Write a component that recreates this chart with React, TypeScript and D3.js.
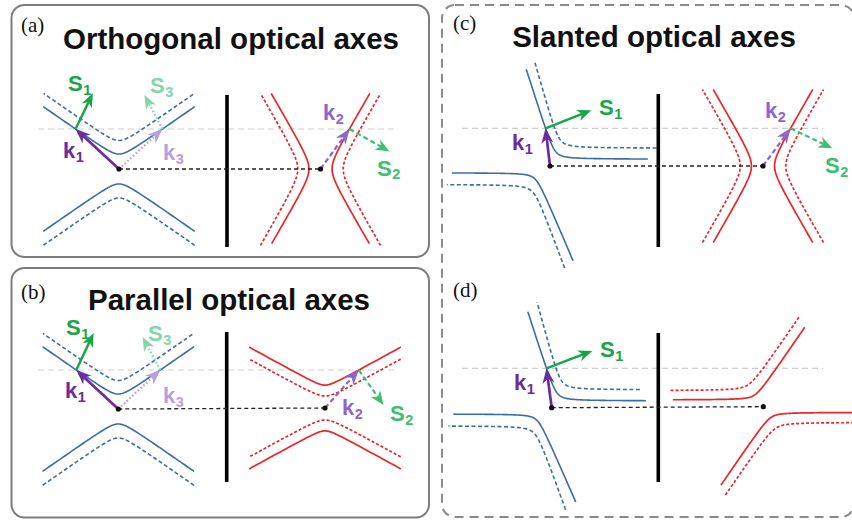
import React from "react";
import * as d3 from "d3";

type Pt = [number, number];
// One branch of an index surface: corner of its two asymptotes, the far ends of
// both arms and the rounding of the corner (all relative to the panel origin).
type Branch = { c: Pt; e1: Pt; e2: Pt; r: number; dash: boolean };

const W = 852;
const H = 520;

const BLUE = "#3d6da6";
const RED = "#e8262b";
const K1 = "#6a2c9e";
const K2 = "#9063cf";
const K3 = "#b89fe0";
const S1 = "#17a548";
const S2 = "#3dbf72";
const S3 = "#84d6ab";

// ---- surfaces -------------------------------------------------------------
const blueVert: Branch[] = [
  { c: [0, -9], e1: [-76, -62.2], e2: [76, -62.2], r: 5.2, dash: false },
  { c: [0, -22.5], e1: [-75.7, -75.5], e2: [74.3, -74.5], r: 5.2, dash: true },
  { c: [0, 9], e1: [-76, 62.2], e2: [76, 62.2], r: 5.2, dash: false },
  { c: [0, 23], e1: [-76, 76.2], e2: [76, 76.2], r: 5.2, dash: true },
];

const redSideA: Branch[] = [
  { c: [-4.5, 0], e1: [-49, -76], e2: [-48.5, 75], r: 7, dash: false },
  { c: [4.5, 0], e1: [49, -76], e2: [48.5, 75], r: 7, dash: false },
  { c: [-15.2, 0], e1: [-59.7, -76], e2: [-59.7, 77], r: 7.5, dash: true },
  { c: [15.2, 0], e1: [59.7, -76], e2: [59.7, 77], r: 7.5, dash: true },
];

const redVertB: Branch[] = [
  { c: [0, -19], e1: [-76, -60.8], e2: [76, -60.8], r: 4, dash: false },
  { c: [0, -6.9], e1: [-76, -48.7], e2: [76, -48.7], r: 5.3, dash: true },
  { c: [0, 6.9], e1: [-76, 48.7], e2: [76, 48.7], r: 5.3, dash: true },
  { c: [0, 19], e1: [-76, 60.8], e2: [76, 60.8], r: 4, dash: false },
];

const blueSlantC: Branch[] = [
  { c: [4.4, -6.7], e1: [-24, -96.7], e2: [98, -6.7], r: 5.5, dash: false },
  { c: [8.6, -17.7], e1: [-15.7, -104.3], e2: [106.7, -17.7], r: 6, dash: true },
  { c: [-14, 6.7], e1: [-98.3, 6.7], e2: [23.3, 94.7], r: 5, dash: false },
  { c: [-15.8, 18.3], e1: [-103.3, 18.3], e2: [15, 102], r: 6, dash: true },
];

const redSideC: Branch[] = [
  { c: [-4.5, 0], e1: [-49.5, -77], e2: [-49.5, 77], r: 7, dash: false },
  { c: [4.5, 0], e1: [49.5, -77], e2: [49.5, 77], r: 7, dash: false },
  { c: [-15.2, 0], e1: [-60.2, -77], e2: [-60.2, 77], r: 7.5, dash: true },
  { c: [15.2, 0], e1: [60.2, -77], e2: [60.2, 77], r: 7.5, dash: true },
];

const blueSlantD: Branch[] = [
  { c: [4.4, -6.7], e1: [-24.2, -96], e2: [94.3, -6.7], r: 5.5, dash: false },
  { c: [8.6, -17.7], e1: [-15, -105.4], e2: [88.3, -17.7], r: 6, dash: true },
  { c: [-14, 6.2], e1: [-98.4, 6.2], e2: [24.3, 94.3], r: 5, dash: false },
  { c: [-15.8, 18], e1: [-103.4, 18], e2: [14.3, 102], r: 6, dash: true },
];

const redSlantD: Branch[] = [
  { c: [-8.1, -6.7], e1: [-90.6, -6.7], e2: [41.7, -79.4], r: 5, dash: false },
  { c: [-14.3, -16], e1: [-95, -16], e2: [36, -89.4], r: 6, dash: true },
  { c: [7.2, 5.6], e1: [90, 5.6], e2: [-42.6, 78.3], r: 5, dash: false },
  { c: [11.5, 15.6], e1: [90, 15.6], e2: [-38.3, 88.3], r: 6, dash: true },
];

// ---- wave vectors and Poynting vectors ------------------------------------
type Ray = {
  set: "blue" | "red";
  branch: number;
  side: 1 | -1;
  k: [string, string, string, string, Pt];
  s?: [string, string, string, string, Pt, Pt];
};
// k: [letter, index, colour, style, label]; s: [...same, vector, label]
const raysA: Ray[] = [
  { set: "blue", branch: 0, side: -1, k: ["k", "1", K1, "solid", [63, 158]], s: ["S", "1", S1, "solid", [17.3, -35.7], [68, 91]] },
  { set: "blue", branch: 0, side: 1, k: ["k", "3", K3, "dot", [163, 160]], s: ["S", "3", S3, "dot", [-18, -34], [150, 93]] },
  { set: "red", branch: 1, side: 1, k: ["k", "2", K2, "dash", [323, 120]], s: ["S", "2", S2, "dash", [40, 22.4], [377, 175.5]] },
];
const raysB: Ray[] = [
  { set: "blue", branch: 0, side: -1, k: ["k", "1", K1, "solid", [65, 398]], s: ["S", "1", S1, "solid", [17.3, -37], [66, 335]] },
  { set: "blue", branch: 0, side: 1, k: ["k", "3", K3, "dot", [163, 403]], s: ["S", "3", S3, "dot", [-17.7, -33], [148, 341]] },
  { set: "red", branch: 0, side: 1, k: ["k", "2", K2, "dash", [342, 415]], s: ["S", "2", S2, "dash", [24.7, 35], [390, 421]] },
];
const raysC: Ray[] = [
  { set: "blue", branch: 0, side: -1, k: ["k", "1", K1, "solid", [512, 150]], s: ["S", "1", S1, "solid", [45.7, -18], [599, 115]] },
  { set: "red", branch: 1, side: 1, k: ["k", "2", K2, "dash", [765, 118]], s: ["S", "2", S2, "dash", [41.7, 20], [825, 173]] },
];
const raysD: Ray[] = [
  { set: "blue", branch: 0, side: -1, k: ["k", "1", K1, "solid", [514, 390]], s: ["S", "1", S1, "solid", [45.7, -17.3], [600, 357]] },
];

type Panel = {
  tag?: [string, Pt];
  title?: [string, Pt];
  blueO: Pt;
  redO: Pt;
  blue: Branch[];
  red: Branch[];
  grayY: number;
  grayX: Pt;
  wall: [number, number, number];
  rays: Ray[];
};

const panels: Panel[] = [
  { tag: ["(a)", [21, 32]], title: ["Orthogonal optical axes", [231, 49]], blueO: [119, 169], redO: [320.5, 169], blue: blueVert, red: redSideA, grayY: 129, grayX: [38, 395], wall: [227, 95, 247], rays: raysA },
  { tag: ["(b)", [21, 299]], title: ["Parallel optical axes", [229, 310]], blueO: [118.3, 409], redO: [325, 408], blue: blueVert, red: redVertB, grayY: 370, grayX: [38, 395], wall: [226.7, 332, 482], rays: raysB },
  { tag: ["(c)", [453, 30]], title: ["Slanted optical axes", [654, 47]], blueO: [550, 166], redO: [763, 166], blue: blueSlantC, red: redSideC, grayY: 128.3, grayX: [462, 823], wall: [658.3, 94, 247], rays: raysC },
  { tag: ["(d)", [453, 297]], blueO: [551.7, 407.7], redO: [763.3, 406.7], blue: blueSlantD, red: redSlantD, grayY: 368.3, grayX: [462, 823], wall: [658.3, 333, 482], rays: raysD },
];

// ---- geometry helpers -----------------------------------------------------
function sampleBranch(b: Branch, o: Pt): Pt[] {
  const x = d3.scaleLinear().domain([0, 1]).range([o[0], o[0] + 1]);
  const y = d3.scaleLinear().domain([0, 1]).range([o[1], o[1] + 1]);
  const v1: Pt = [b.e1[0] - b.c[0], b.e1[1] - b.c[1]];
  const v2: Pt = [b.e2[0] - b.c[0], b.e2[1] - b.c[1]];
  const L1 = Math.hypot(v1[0], v1[1]);
  const L2 = Math.hypot(v2[0], v2[1]);
  const u1: Pt = [v1[0] / L1, v1[1] / L1];
  const u2: Pt = [v2[0] / L2, v2[1] / L2];
  const t0 = -Math.log(L2 / b.r);
  const t1 = Math.log(L1 / b.r);
  return d3.range(0, 121).map((i) => {
    const t = t0 + ((t1 - t0) * i) / 120;
    const a = b.r * Math.exp(t);
    const c = b.r * Math.exp(-t);
    return [x(b.c[0] + a * u1[0] + c * u2[0]), y(b.c[1] + a * u1[1] + c * u2[1])] as Pt;
  });
}

function crossing(pts: Pt[], gy: number, ox: number, side: number): Pt {
  let best: Pt = pts[0];
  for (let i = 0; i < pts.length - 1; i++) {
    const [x1, y1] = pts[i];
    const [x2, y2] = pts[i + 1];
    if ((y1 - gy) * (y2 - gy) <= 0 && y1 !== y2) {
      const f = (gy - y1) / (y2 - y1);
      const xx = x1 + f * (x2 - x1);
      if ((xx - ox) * side > 0) best = [xx, gy];
    }
  }
  return best;
}

const lineGen = d3.line<Pt>().x((d) => d[0]).y((d) => d[1]);

const dashFor = (style: string) =>
  style === "dot" ? "1.6 2.2" : style === "dash" ? "5 3" : undefined;

function Arrow({ from, to, color, style, w = 2.2, hl = 11, hw = 9 }: { from: Pt; to: Pt; color: string; style: string; w?: number; hl?: number; hw?: number }) {
  const dx = to[0] - from[0];
  const dy = to[1] - from[1];
  const L = Math.hypot(dx, dy);
  const ux = dx / L;
  const uy = dy / L;
  const px = -uy;
  const py = ux;
  const bx = to[0] - ux * hl;
  const by = to[1] - uy * hl;
  const nx = to[0] - ux * hl * 0.7;
  const ny = to[1] - uy * hl * 0.7;
  const head = `M${to[0]},${to[1]}L${bx + (px * hw) / 2},${by + (py * hw) / 2}L${nx},${ny}L${bx - (px * hw) / 2},${by - (py * hw) / 2}Z`;
  return (
    <g>
      <line x1={from[0]} y1={from[1]} x2={nx} y2={ny} stroke={color} strokeWidth={w} strokeDasharray={dashFor(style)} />
      <path d={head} fill={color} />
    </g>
  );
}

function Label({ at, main, sub, color }: { at: Pt; main: string; sub: string; color: string }) {
  return (
    <text x={at[0]} y={at[1]} fill={color} fontFamily="Liberation Sans, Arial, sans-serif" fontWeight="bold" fontSize={22}>
      {main}
      <tspan fontSize={14.5} dx={0.5} dy={3.5}>{sub}</tspan>
    </text>
  );
}

function PanelView({ p }: { p: Panel }) {
  const blueCurves = p.blue.map((b) => sampleBranch(b, p.blueO));
  const redCurves = p.red.map((b) => sampleBranch(b, p.redO));
  return (
    <g>
      {p.tag && (
        <text x={p.tag[1][0]} y={p.tag[1][1]} fontFamily="Liberation Serif, Times New Roman, serif" fontSize={21} fill="#111">
          {p.tag[0]}
        </text>
      )}
      {p.title && (
        <text x={p.title[1][0]} y={p.title[1][1]} textAnchor="middle" fontFamily="Liberation Sans, Arial, sans-serif" fontWeight="bold" fontSize={29.5} fill="#111">
          {p.title[0]}
        </text>
      )}
      <line x1={p.grayX[0]} x2={p.grayX[1]} y1={p.grayY} y2={p.grayY} stroke="#cfcfcf" strokeWidth={1.2} strokeDasharray="6 4" />
      {blueCurves.map((pts, i) => (
        <path key={"b" + i} d={lineGen(pts) || ""} fill="none" stroke={BLUE} strokeWidth={1.6} strokeDasharray={p.blue[i].dash ? "4 2.5" : undefined} />
      ))}
      {redCurves.map((pts, i) => (
        <path key={"r" + i} d={lineGen(pts) || ""} fill="none" stroke={RED} strokeWidth={1.7} strokeDasharray={p.red[i].dash ? "3 2" : undefined} />
      ))}
      <line x1={p.wall[0]} x2={p.wall[0]} y1={p.wall[1]} y2={p.wall[2]} stroke="#000" strokeWidth={3.6} />
      <line x1={p.blueO[0]} y1={p.blueO[1]} x2={p.redO[0]} y2={p.redO[1]} stroke="#222" strokeWidth={1.3} strokeDasharray="4 3" />
      {p.rays.map((r, i) => {
        const o = r.set === "blue" ? p.blueO : p.redO;
        const pts = (r.set === "blue" ? blueCurves : redCurves)[r.branch];
        const tip = crossing(pts, p.grayY, o[0], r.side);
        const [kl, ki, kc, ks, kpos] = r.k;
        return (
          <g key={i}>
            <Arrow from={o} to={tip} color={kc} style={ks} w={ks === "solid" ? 2.7 : 2.2} hl={15} hw={12} />
            <Label at={kpos} main={kl} sub={ki} color={kc} />
            {r.s && (
              <g>
                <Arrow from={tip} to={[tip[0] + r.s[4][0], tip[1] + r.s[4][1]]} color={r.s[2]} style={r.s[3]} w={ r.s[3] === "solid" ? 2.4 : 2.2} hl={14} hw={11.5} />
                <Label at={r.s[5]} main={r.s[0]} sub={r.s[1]} color={r.s[2]} />
              </g>
            )}
          </g>
        );
      })}
      <circle cx={p.blueO[0]} cy={p.blueO[1]} r={2.6} fill="#111" />
      <circle cx={p.redO[0]} cy={p.redO[1]} r={2.6} fill="#111" />
    </g>
  );
}

export default function App() {
  return (
    <svg width={W} height={H} viewBox={`0 0 ${W} ${H}`} style={{ position: "absolute", left: 0, top: 0, background: "#fff" }}>
      <rect x={0} y={0} width={W} height={H} fill="#fff" />
      <rect x={11.5} y={5} width={417.5} height={252} rx={13} fill="none" stroke="#7d7d7d" strokeWidth={2} />
      <rect x={11.5} y={268} width={417.5} height={249.5} rx={13} fill="none" stroke="#7d7d7d" strokeWidth={2} />
      <rect x={442} y={5} width={412} height={512} rx={13} fill="none" stroke="#8a8a8a" strokeWidth={2} strokeDasharray="9 6" />
      {panels.map((p, i) => (
        <PanelView key={i} p={p} />
      ))}
    </svg>
  );
}
